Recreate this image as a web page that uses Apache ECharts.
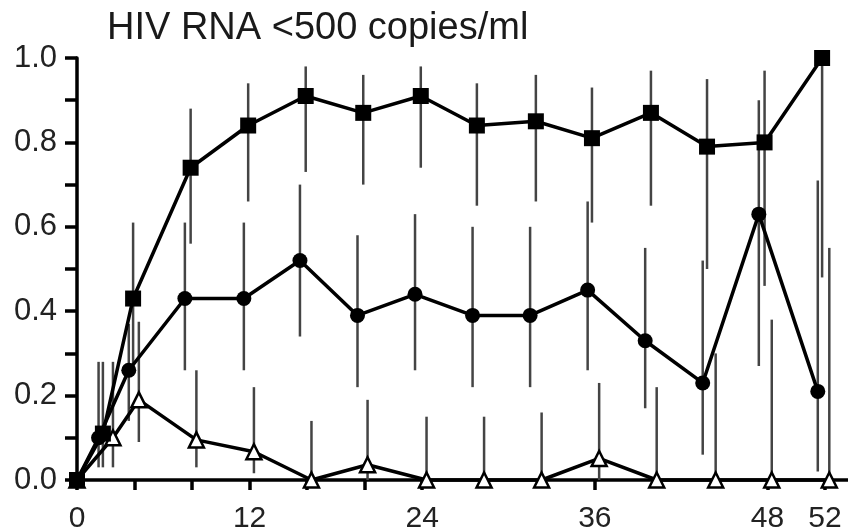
<!DOCTYPE html>
<html><head><meta charset="utf-8">
<script src="https://cdn.jsdelivr.net/npm/echarts@6/dist/echarts.min.js"></script>
<style>html,body{margin:0;padding:0;background:#fff}#c{width:848px;height:531px}</style>
</head><body><div id="c"></div>
<script>
const titleText = 'HIV RNA <500 copies/ml';
const xTickValues = [0, 4, 8, 12, 16, 20, 24, 36, 48, 52];
const xLabelValues = [0, 12, 24, 36, 48, 52];
const yLabelValues = [0, 0.2, 0.4, 0.6, 0.8, 1.0];

// Squares
const sqWeeks = [0, 1.8, 3.9, 7.9, 11.9, 15.9, 19.9, 23.9, 27.8, 31.9, 35.8, 39.9, 43.8, 47.8, 51.8];
const sqVals  = [0, 0.11, 0.43, 0.74, 0.84, 0.91, 0.87, 0.91, 0.84, 0.85, 0.81, 0.87, 0.79, 0.80, 1.0];
const sqLow   = [0, 0.03, 0.26, 0.56, 0.66, 0.73, 0.70, 0.74, 0.65, 0.66, 0.61, 0.65, 0.50, 0.46, 0.48];
const sqHigh  = [0, 0.28, 0.61, 0.88, 0.94, 0.98, 0.96, 0.98, 0.94, 0.96, 0.93, 0.97, 0.95, 0.97, 1.0];

// Circles
const ciWeeks = [0, 1.5, 3.6, 7.5, 11.6, 15.5, 19.5, 23.5, 27.5, 31.5, 35.5, 39.5, 43.5, 47.4, 51.5];
const ciVals  = [0, 0.10, 0.26, 0.43, 0.43, 0.52, 0.39, 0.44, 0.39, 0.39, 0.45, 0.33, 0.23, 0.63, 0.21];
const ciLow   = [0, 0.03, 0.14, 0.26, 0.26, 0.34, 0.22, 0.26, 0.22, 0.22, 0.26, 0.17, 0.06, 0.27, 0.02];
const ciHigh  = [0, 0.28, 0.37, 0.61, 0.61, 0.70, 0.58, 0.63, 0.60, 0.60, 0.66, 0.55, 0.52, 0.90, 0.71];

// Triangles
const trWeeks = [0, 2.5, 4.3, 8.3, 12.3, 16.3, 20.2, 24.3, 28.3, 32.3, 36.3, 40.3, 44.4, 48.3, 52.3];
const trVals  = [0, 0.10, 0.19, 0.095, 0.067, 0, 0.036, 0, 0, 0, 0.051, 0, 0, 0, 0];
const trLow   = [0, 0.03, 0.09, 0.03, 0.016, 0, 0, 0, 0, 0, 0, 0, 0, 0, 0];
const trHigh  = [0, 0.28, 0.375, 0.26, 0.22, 0.14, 0.19, 0.15, 0.15, 0.16, 0.23, 0.22, 0.30, 0.38, 0.55];

function pts(w, v) { return w.map((x, i) => [x, v[i]]); }
function bars(w, lo, hi) { return w.map((x, i) => [x, lo[i], hi[i]]); }

const errRender = function (params, api) {
  const x = api.value(0), lo = api.value(1), hi = api.value(2);
  if (hi <= lo) return null;
  const p1 = api.coord([x, lo]), p2 = api.coord([x, hi]);
  return { type: 'line', shape: { x1: p1[0], y1: p1[1], x2: p2[0], y2: p2[1] },
           style: { stroke: '#444', lineWidth: 2.5 } };
};

function errSeries(data) {
  return { type: 'custom', renderItem: errRender, data: data, encode: { x: 0, y: [1, 2] }, z: 1, clip: false, silent: true };
}
function lineSeries(data, symbol, size, fill) {
  return {
    type: 'line', data: data, symbol: symbol, symbolSize: size, z: 3, clip: false,
    lineStyle: { color: '#000', width: 3.5 },
    itemStyle: { color: fill, borderColor: '#000', borderWidth: fill === '#fff' ? 2.5 : 0 }
  };
}

const font = 'Liberation Sans, Arial, Helvetica, sans-serif';
const chart = echarts.init(document.getElementById('c'), null, { renderer: 'canvas' });
chart.setOption({
  animation: false,
  backgroundColor: '#fff',
  title: {
    text: titleText, left: 102, top: 5,
    textStyle: { fontFamily: font, fontSize: 38, fontWeight: 'normal', color: '#1a1a1a' }
  },
  grid: { left: 77, right: 0, top: 58, bottom: 51, containLabel: false, outerBoundsMode: 'none' },
  xAxis: {
    type: 'value', min: 0, max: 53.6,
    axisLine: { show: true, lineStyle: { color: '#000', width: 3.5 } },
    axisTick: { show: true, customValues: xTickValues, length: 10, lineStyle: { color: '#000', width: 3.5 } },
    axisLabel: { customValues: xLabelValues, margin: 24, fontSize: 30, color: '#222', fontFamily: font },
    splitLine: { show: false }
  },
  yAxis: {
    type: 'value', min: 0, max: 1, interval: 0.1,
    axisLine: { show: true, lineStyle: { color: '#000', width: 3.5 } },
    axisTick: { show: true, length: 12, lineStyle: { color: '#000', width: 3.5 } },
    axisLabel: {
      margin: 20, fontSize: 31, color: '#222', fontFamily: font,
      formatter: v => (yLabelValues.some(t => Math.abs(t - v) < 1e-6) ? v.toFixed(1) : '')
    },
    splitLine: { show: false }
  },
  series: [
    errSeries(bars(sqWeeks, sqLow, sqHigh)),
    errSeries(bars(ciWeeks, ciLow, ciHigh)),
    errSeries(bars(trWeeks, trLow, trHigh)),
    lineSeries(pts(trWeeks, trVals), 'triangle', 15, '#fff'),
    lineSeries(pts(ciWeeks, ciVals), 'circle', 15, '#000'),
    lineSeries(pts(sqWeeks, sqVals), 'rect', 16, '#000')
  ]
});
</script>
</body></html>
